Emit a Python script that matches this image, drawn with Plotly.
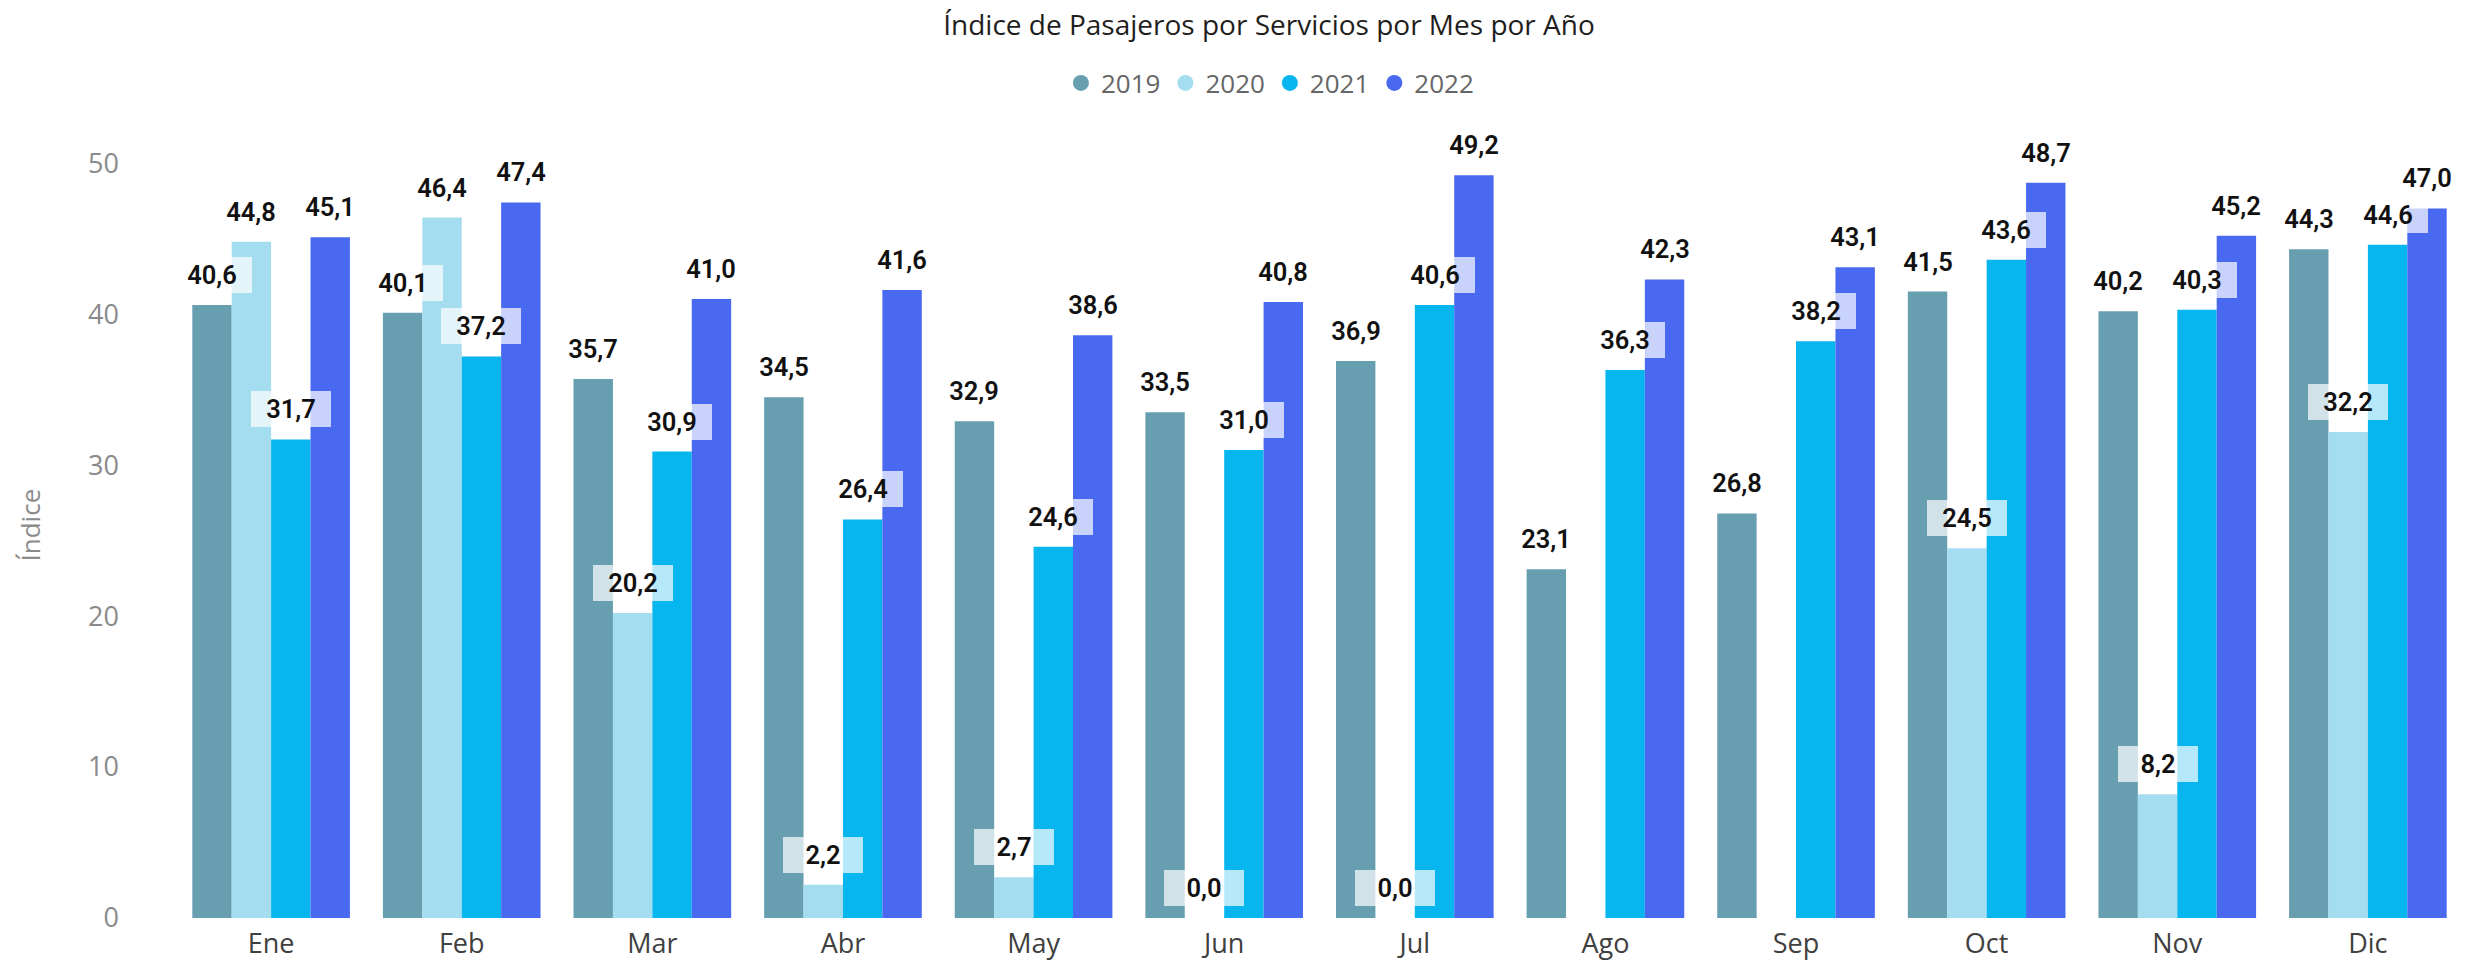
import plotly.graph_objects as go

meses = ["Ene", "Feb", "Mar", "Abr", "May", "Jun", "Jul", "Ago", "Sep", "Oct", "Nov", "Dic"]
anios = ["2019", "2020", "2021", "2022"]
v2019 = [40.6, 40.1, 35.7, 34.5, 32.9, 33.5, 36.9, 23.1, 26.8, 41.5, 40.2, 44.3]
v2020 = [44.8, 46.4, 20.2, 2.2, 2.7, 0.0, 0.0, None, None, 24.5, 8.2, 32.2]
v2021 = [31.7, 37.2, 30.9, 26.4, 24.6, 31.0, 40.6, 36.3, 38.2, 43.6, 40.3, 44.6]
v2022 = [45.1, 47.4, 41.0, 41.6, 38.6, 40.8, 49.2, 42.3, 43.1, 48.7, 45.2, 47.0]
series = [v2019, v2020, v2021, v2022]
colores = ["#679FB1", "#A4DDEF", "#07B5EF", "#4869F0"]

bargap = 0.173
fig = go.Figure()
for name, vals, col in zip(anios, series, colores):
    fig.add_trace(go.Bar(x=meses, y=vals, name=name, marker_color=col,
                         marker_line_width=0, showlegend=False,
                         hoverinfo="x+y+name"))
for name, col in zip(anios, colores):
    fig.add_trace(go.Scatter(x=[None], y=[None], mode="markers", name=name,
                             marker=dict(symbol="circle", size=20, color=col)))

bw = (1 - bargap) / len(series)
label_font = dict(family="Roboto", size=25.5, color="#111111", weight=600)
for j, vals in enumerate(series):
    off = (j - (len(series) - 1) / 2) * bw
    for i, v in enumerate(vals):
        if v is None:
            continue
        fig.add_annotation(x=i + off, y=v, xref="x", yref="y",
                           text=f"{v:.1f}".replace(".", ","),
                           showarrow=False, yanchor="bottom", yshift=12,
                           width=80, height=36, borderpad=0, borderwidth=0,
                           bgcolor="rgba(255,255,255,0.7)", font=label_font)

fig.add_annotation(text="Índice", xref="paper", yref="paper", x=0, y=0.5,
                   xanchor="center", yanchor="middle",
                   xshift=-143, textangle=-90, showarrow=False,
                   font=dict(family="Open Sans", size=26, color="#8A8A8A"))

fig.update_layout(
    width=2480, height=963,
    margin=dict(l=172, r=13, t=133, b=45),
    paper_bgcolor="white", plot_bgcolor="white",
    barmode="group", bargap=bargap, bargroupgap=0,
    title=dict(text="Índice de Pasajeros por Servicios por Mes por Año",
               x=0.5117, xanchor="center", y=1 - 25 / 963, yanchor="middle",
               font=dict(family="Open Sans", size=28, color="#1F1E1D")),
    legend=dict(orientation="h", x=0.4784, xanchor="center", y=1.0637,
                yanchor="middle", itemwidth=30,
                font=dict(family="Open Sans", size=26, color="#666666")),
    xaxis=dict(showgrid=False, zeroline=False, showline=False, ticks="",
               ticklabelstandoff=7, automargin=False,
               tickfont=dict(family="Open Sans", size=27, color="#404040")),
    yaxis=dict(range=[0, 52], dtick=10, showgrid=False, zeroline=False,
               showline=False, ticks="", ticklabelstandoff=52, automargin=False,
               tickfont=dict(family="Open Sans", size=27, color="#8A8A8A")),
    hovermode="closest",
)

fig.write_html("out.html", config={"displayModeBar": False},
               post_script="document.body.style.margin='0';")
